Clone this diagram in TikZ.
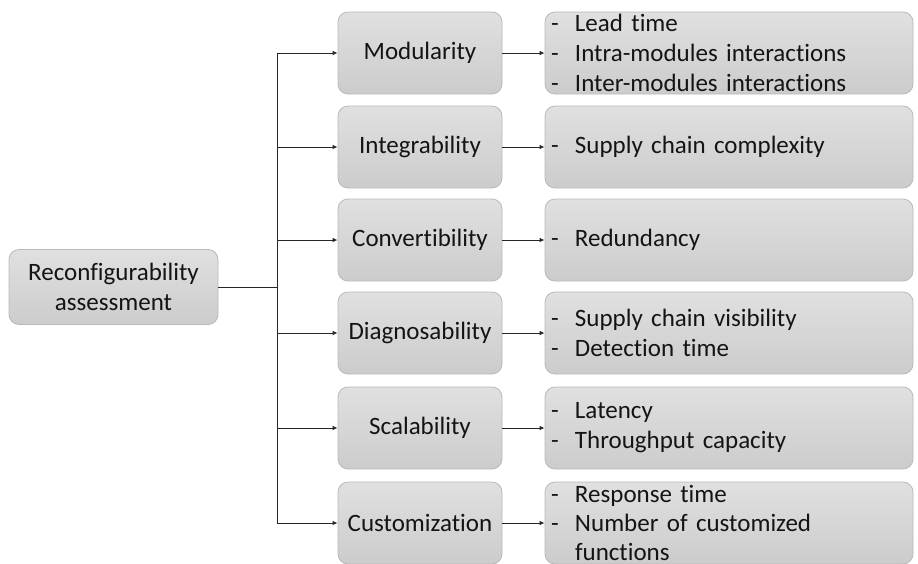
\documentclass[tikz,border=0pt]{standalone}
\usepackage{fontspec}
\setmainfont{Carlito}[RawFeature={-liga;-clig;-dlig;-calt}]
\usetikzlibrary{arrows.meta}
\definecolor{boxtop}{RGB}{224,224,224}
\definecolor{boxbot}{RGB}{204,204,204}
\definecolor{boxline}{RGB}{185,185,185}
\definecolor{txt}{RGB}{20,20,20}
\newcommand{\itm}[1]{\makebox[24pt][l]{-}#1}
\tikzset{
  gbox/.style={draw=boxline, line width=0.8pt, rounded corners=10pt,
    top color=boxtop, bottom color=boxbot, text=txt,
    font=\fontsize{25}{30}\selectfont, inner sep=0pt},
  lbox/.style={gbox, minimum width=209pt, minimum height=75pt, align=center},
  mbox/.style={gbox, minimum width=164pt, minimum height=82pt, align=center},
  rbox/.style={gbox, minimum width=368pt, minimum height=82pt,
    text width=356pt, inner xsep=6pt, align=left},
  conn/.style={draw=black!85, line width=0.9pt},
  arr/.style={conn, -{Latex[length=5pt,width=4.5pt]}}
}
\begin{document}
\begin{tikzpicture}[x=1pt,y=-1pt]
\useasboundingbox (0,0) rectangle (918,563);
\node[lbox] (L) at (113.5,287) {Reconfigurability\\assessment};
\node[mbox] (M1) at (420,53) {Modularity};
\node[mbox] (M2) at (420,147) {Integrability};
\node[mbox] (M3) at (420,240) {Convertibility};
\node[mbox] (M4) at (420,333) {Diagnosability};
\node[mbox] (M5) at (420,428) {Scalability};
\node[mbox] (M6) at (420,523) {Customization};
\node[rbox] (R1) at (729,53) {\itm{Lead time}\\\itm{Intra-modules interactions}\\\itm{Inter-modules interactions}};
\node[rbox] (R2) at (729,147) {\itm{Supply chain complexity}};
\node[rbox] (R3) at (729,240) {\itm{Redundancy}};
\node[rbox] (R4) at (729,333) {\itm{Supply chain visibility}\\\itm{Detection time}};
\node[rbox] (R5) at (729,428) {\itm{Latency}\\\itm{Throughput capacity}};
\node[rbox, font=\fontsize{25}{29}\selectfont] (R6) at (729,523) {\itm{Response time}\\\itm{Number of customized}\\\hspace*{24pt}functions};
\coordinate (T1) at (277,53);
\coordinate (T2) at (277,147);
\coordinate (T3) at (277,240);
\coordinate (T4) at (277,333);
\coordinate (T5) at (277,428);
\coordinate (T6) at (277,523);
\coordinate (TL) at (277,287);
\draw[conn] (L.east) -- (TL);
\draw[conn] (T1) -- (T6);
\foreach \i in {1,...,6}{
  \draw[arr] (T\i) -- (M\i.west);
  \draw[arr] (M\i.east) -- (R\i.west);
}
\end{tikzpicture}
\end{document}
